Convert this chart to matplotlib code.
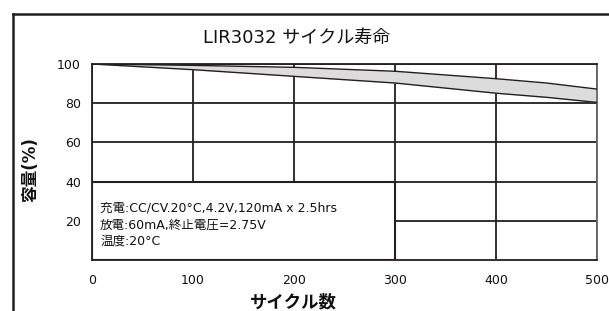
import matplotlib
matplotlib.use("Agg")
import matplotlib.pyplot as plt
import matplotlib.lines as lines
from matplotlib.patches import Rectangle

plt.rcParams['font.family'] = ['DejaVu Sans', 'Noto Sans CJK JP']

# cycle life band (upper / lower capacity in %)
cycles = [0, 100, 200, 300, 400, 450, 500]
cap_upper = [100, 99.3, 98.3, 96.3, 92.5, 90.3, 87.2]
cap_lower = [100, 97.1, 93.7, 90.3, 85.1, 83.0, 80.4]

xticks = [0, 100, 200, 300, 400, 500]
yticks = [20, 40, 60, 80, 100]

title = "LIR3032 サイクル寿命"
xlabel = "サイクル数"
ylabel = "容量(%)"
notes = ["充電:CC/CV.20°C,4.2V,120mA x 2.5hrs",
         "放電:60mA,終止電圧=2.75V",
         "温度:20°C"]

dark = '#231f20'
W, H = 609, 311

fig = plt.figure(figsize=(W / 100, H / 100), dpi=100)
ax = fig.add_axes([92 / W, 1 - 260 / H, 505 / W, 196 / H])

ax.fill_between(cycles, cap_lower, cap_upper, color='#dcdcdc', zorder=2, lw=0)
ax.plot(cycles, cap_upper, color=dark, lw=1.0, zorder=3)
ax.plot(cycles, cap_lower, color=dark, lw=1.0, zorder=3)

ax.set_xlim(0, 500)
ax.set_ylim(0, 100)
ax.set_xticks(xticks)
ax.set_yticks(yticks)
ax.tick_params(length=0, labelsize=9, colors='#111111')
ax.tick_params(axis='x', pad=10)
ax.tick_params(axis='y', pad=8)
ax.grid(True, color=dark, lw=1.3, zorder=1)
ax.set_axisbelow(True)
for s in ax.spines.values():
    s.set_color(dark)
    s.set_linewidth(1.3)
ax.spines['right'].set_color('#666666')

# condition box over the lower-left of the grid
ax.add_patch(Rectangle((0, 0), 300, 40, facecolor='white', edgecolor=dark,
                       lw=1.5, zorder=4))
for i, line in enumerate(notes):
    ax.text(8, 26.5 - i * 8.5, line, fontsize=9, va='center', ha='left',
            color='#111111', zorder=5)

fig.text(297 / W, 1 - 38 / H, title, fontsize=13, ha='center', va='center',
         color='#111111')
fig.text(293 / W, 1 - 302 / H, xlabel, fontsize=12.5, fontweight='bold',
         ha='center', va='center', color='#111111')
fig.text(30 / W, 1 - 170 / H, ylabel, fontsize=12, fontweight='bold',
         rotation=90, ha='center', va='center', color='#111111')

# outer frame (left and top edges)
fig.add_artist(lines.Line2D([12.5 / W, 12.5 / W], [0, 1 - 13.5 / H],
                            color=dark, lw=1.8, transform=fig.transFigure))
fig.add_artist(lines.Line2D([12.5 / W, 1], [1 - 13.5 / H, 1 - 13.5 / H],
                            color=dark, lw=1.8, transform=fig.transFigure))

fig.savefig("out.png", dpi=100)
